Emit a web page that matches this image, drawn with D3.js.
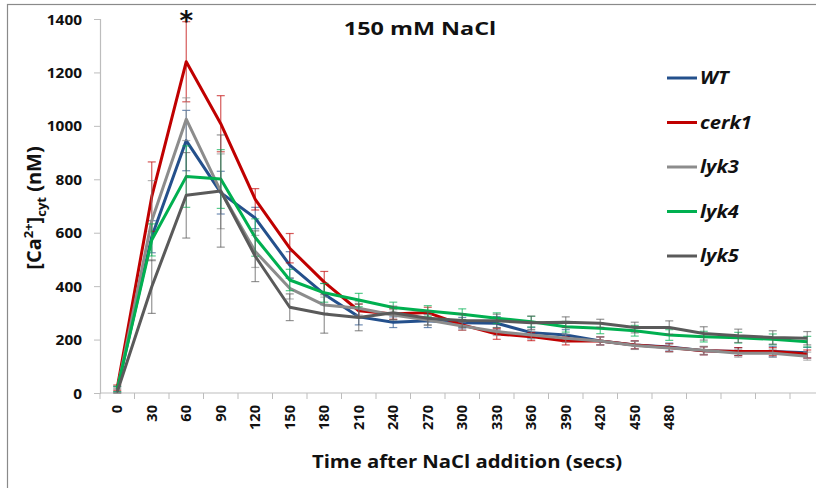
<!DOCTYPE html>
<html>
<head>
<meta charset="utf-8">
<script src="https://cdn.jsdelivr.net/npm/d3@7"></script>
<style>
  body { margin: 0; background: white; }
  svg { display: block; font-family: "Open Sans", sans-serif; }
</style>
</head>
<body>
<svg id="chart" width="816" height="488"></svg>
<script>
// time points (secs) - last four have no label on the axis
const times = [0, 30, 60, 90, 120, 150, 180, 210, 240, 270, 300, 330, 360, 390, 420, 450, 480, 510, 540, 570, 600];
const tickLabels = ["0", "30", "60", "90", "120", "150", "180", "210", "240", "270", "300", "330", "360", "390", "420", "450", "480", "", "", "", ""];
const yTicks = [0, 200, 400, 600, 800, 1000, 1200, 1400];

const seriesNames = ["WT", "cerk1", "lyk3", "lyk4", "lyk5"];
const seriesColors = ["#24508c", "#c00000", "#8c8c8c", "#00b050", "#5a5a5a"];

const wt    = [15, 585, 945, 750, 655, 479, 370, 285, 265, 270, 263, 261, 226, 217, 195, 180, 172, 158, 155, 155, 151];
const cerk1 = [20, 735, 1240, 1008, 725, 542, 415, 308, 296, 301, 255, 221, 211, 195, 195, 180, 170, 158, 155, 155, 146];
const lyk3  = [10, 645, 1025, 755, 530, 392, 329, 317, 292, 273, 251, 230, 217, 205, 195, 178, 168, 160, 149, 149, 138];
const lyk4  = [15, 573, 810, 801, 582, 423, 375, 348, 320, 307, 295, 280, 267, 248, 242, 233, 217, 211, 207, 201, 192];
const lyk5  = [5, 398, 740, 756, 512, 321, 296, 283, 300, 280, 271, 270, 263, 265, 261, 245, 245, 223, 214, 208, 205];

// standard error (symmetric)
const wtErr    = [10, 60, 113, 80, 40, 50, 40, 30, 20, 25, 20, 25, 20, 20, 15, 15, 15, 15, 15, 20, 20];
const cerk1Err = [10, 130, 150, 105, 40, 55, 40, 25, 20, 20, 20, 20, 15, 15, 15, 15, 15, 15, 15, 15, 15];
const lyk3Err  = [10, 150, 80, 140, 60, 40, 30, 25, 20, 20, 15, 15, 15, 15, 15, 15, 15, 15, 15, 15, 15];
const lyk4Err  = [10, 60, 115, 110, 70, 40, 35, 25, 20, 20, 20, 20, 20, 20, 20, 20, 20, 20, 20, 20, 20];
const lyk5Err  = [10, 100, 160, 210, 95, 50, 72, 50, 25, 25, 25, 25, 25, 20, 15, 20, 25, 25, 25, 25, 25];

const values = [wt, cerk1, lyk3, lyk4, lyk5];
const errors = [wtErr, cerk1Err, lyk3Err, lyk4Err, lyk5Err];

const series = seriesNames.map((name, i) => ({
  name: name,
  color: seriesColors[i],
  points: times.map((t, j) => ({ t: t, v: values[i][j], e: errors[i][j] }))
}));

const svg = d3.select("#chart");

// the source picture is a bit stretched sideways, so text gets a scaleX
function wideText(sel, x, y, sx) {
  return sel.attr("transform", `translate(${x},${y}) scale(${sx},1)`);
}

// outer frame (cut off on the right and bottom like the original)
svg.append("rect")
  .attr("x", 7.5).attr("y", 4.5)
  .attr("width", 900).attr("height", 600)
  .attr("fill", "none")
  .attr("stroke", "#8a8a8a")
  .attr("stroke-width", 1.2);

const x = d3.scaleBand()
  .domain(times)
  .range([100, 100 + 34.5 * times.length])
  .paddingInner(0).paddingOuter(0);

const y = d3.scaleLinear()
  .domain([0, 1400])
  .range([393, 19]);

const cx = t => x(t) + x.bandwidth() / 2;

// y axis
const yAxis = svg.append("g")
  .attr("transform", "translate(100,0)")
  .call(d3.axisLeft(y).tickValues(yTicks).tickFormat(d3.format("d")).tickSize(6).tickPadding(11));
yAxis.select(".domain").attr("stroke", "#bdbdbd").attr("stroke-width", 1.2);
yAxis.selectAll(".tick line").attr("stroke", "#bdbdbd");
yAxis.selectAll(".tick text")
  .attr("font-family", "Open Sans")
  .attr("font-weight", 700)
  .attr("font-size", 14)
  .attr("fill", "#111")
  .attr("x", null)
  .attr("dy", null)
  .each(function() {
    const t = d3.select(this);
    wideText(t, -18, 5, 1.1);
  });

// x axis: ticks sit on the category boundaries
const xAxisG = svg.append("g");
xAxisG.append("line")
  .attr("x1", 100).attr("x2", 100 + 34.5 * times.length)
  .attr("y1", 393).attr("y2", 393)
  .attr("stroke", "#bdbdbd").attr("stroke-width", 1.2);
xAxisG.selectAll("line.tk")
  .data(times.concat(["end"]))
  .join("line")
  .attr("class", "tk")
  .attr("x1", (d, i) => i < times.length ? x(d) : x(times[times.length - 1]) + x.bandwidth())
  .attr("x2", (d, i) => i < times.length ? x(d) : x(times[times.length - 1]) + x.bandwidth())
  .attr("y1", 393).attr("y2", 399)
  .attr("stroke", "#bdbdbd");
xAxisG.selectAll("text")
  .data(times)
  .join("text")
  .attr("transform", d => `translate(${cx(d) + 5},405) rotate(-90) scale(1.08,1.1)`)
  .attr("text-anchor", "end")
  .attr("font-family", "Open Sans")
  .attr("font-weight", 700)
  .attr("font-size", 13.5)
  .attr("fill", "#111")
  .text((d, i) => tickLabels[i]);

// error bars + lines, one series at a time
const line = d3.line()
  .x(d => cx(d.t))
  .y(d => y(d.v));

series.forEach(s => {
  const g = svg.append("g");
  const eb = g.selectAll("g.err")
    .data(s.points)
    .join("g")
    .attr("class", "err")
    .attr("stroke", s.color)
    .attr("stroke-opacity", 0.65)
    .attr("stroke-width", 1.2);
  eb.append("line")
    .attr("x1", d => cx(d.t)).attr("x2", d => cx(d.t))
    .attr("y1", d => y(d.v + d.e)).attr("y2", d => y(Math.max(0, d.v - d.e)));
  eb.append("line")
    .attr("x1", d => cx(d.t) - 4).attr("x2", d => cx(d.t) + 4)
    .attr("y1", d => y(d.v + d.e)).attr("y2", d => y(d.v + d.e));
  eb.append("line")
    .attr("x1", d => cx(d.t) - 4).attr("x2", d => cx(d.t) + 4)
    .attr("y1", d => y(Math.max(0, d.v - d.e))).attr("y2", d => y(Math.max(0, d.v - d.e)));

  g.append("path")
    .datum(s.points)
    .attr("d", line)
    .attr("fill", "none")
    .attr("stroke", s.color)
    .attr("stroke-width", 3)
    .attr("stroke-linejoin", "round");
});

// significance star over the 60 s peak
svg.append("text")
  .attr("x", cx(60))
  .attr("y", 30)
  .attr("text-anchor", "middle")
  .attr("font-family", "DejaVu Sans")
  .attr("font-weight", 700)
  .attr("font-size", 26)
  .attr("fill", "#111")
  .text("*");

// title
wideText(svg.append("text"), 420, 35, 1.3)
  .attr("text-anchor", "middle")
  .attr("font-family", "Open Sans")
  .attr("font-weight", 700)
  .attr("font-size", 18)
  .attr("fill", "#111")
  .text("150 mM NaCl");

// axis titles
wideText(svg.append("text"), 467, 468, 1.16)
  .attr("text-anchor", "middle")
  .attr("font-family", "Open Sans")
  .attr("font-weight", 700)
  .attr("font-size", 17.5)
  .attr("fill", "#111")
  .text("Time after NaCl addition (secs)");

const yt = svg.append("text")
  .attr("transform", "translate(41,208) rotate(-90)")
  .attr("text-anchor", "middle")
  .attr("font-family", "Open Sans")
  .attr("font-weight", 700)
  .attr("font-size", 20)
  .attr("fill", "#111");
yt.append("tspan").text("[Ca");
yt.append("tspan").attr("dy", -8).attr("font-size", 13).text("2+");
yt.append("tspan").attr("dy", 8).text("]");
yt.append("tspan").attr("dy", 5).attr("font-size", 13).text("cyt");
yt.append("tspan").attr("dy", -5).text(" (nM)");

// legend
const legend = svg.append("g");
const lg = legend.selectAll("g")
  .data(series)
  .join("g")
  .attr("transform", (d, i) => `translate(667,${78 + i * 44.5})`);
lg.append("line")
  .attr("x1", 0).attr("x2", 30)
  .attr("stroke", d => d.color)
  .attr("stroke-width", 3);
lg.append("text")
  .attr("transform", "translate(33,6) scale(1.15,1)")
  .attr("font-family", "Open Sans")
  .attr("font-weight", 700)
  .attr("font-style", "italic")
  .attr("font-size", 17.5)
  .attr("fill", "#111")
  .text(d => d.name);
</script>
</body>
</html>
